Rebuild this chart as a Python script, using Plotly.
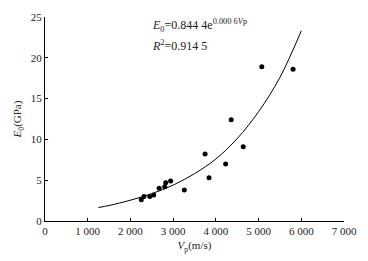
import plotly.graph_objects as go

# Measured points (Vp in m/s, E0 in GPa)
vp_points = [2254, 2316, 2453, 2545, 2673, 2803, 2826, 2941, 3261,
             3748, 3840, 4229, 4359, 4641, 5076, 5808]
e0_points = [2.6, 3.0, 3.0, 3.2, 4.0, 4.2, 4.7, 4.9, 3.8,
             8.2, 5.3, 7.0, 12.4, 9.1, 18.9, 18.6]

# Fitted trend curve
vp_curve = [1250, 1500, 2000, 2500, 3000, 3500, 4000, 4500, 5000, 5500, 6000]
e0_curve = [1.65, 1.9, 2.55, 3.35, 4.4, 5.8, 7.6, 10.1, 13.4, 17.6, 23.3]

x_ticks = [0, 1000, 2000, 3000, 4000, 5000, 6000, 7000]
x_labels = ["0", "1 000", "2 000", "3 000", "4 000", "5 000", "6 000", "7 000"]
y_ticks = [0, 5, 10, 15, 20, 25]

FONT = "Liberation Serif, Times New Roman, serif"

fig = go.Figure()
fig.add_trace(go.Scatter(x=vp_curve, y=e0_curve, mode="lines",
                         line=dict(color="black", width=1, shape="spline"),
                         showlegend=False, hoverinfo="skip"))
fig.add_trace(go.Scatter(x=vp_points, y=e0_points, mode="markers",
                         marker=dict(color="black", size=5),
                         showlegend=False))

axis_common = dict(showline=True, linecolor="black", linewidth=1, showgrid=False,
                   zeroline=False, ticks="inside", ticklen=3, tickcolor="black",
                   ticklabeloverflow="allow",
                   tickfont=dict(family=FONT, size=11, color="#222"))

fig.update_xaxes(range=[0, 7000], tickvals=x_ticks, ticktext=x_labels,
                 title=dict(text="<i>V</i><sub>p</sub>(m/s)", font=dict(family=FONT, size=11, color="#222"),
                            standoff=5),
                 **axis_common)
fig.update_yaxes(range=[0, 25], tickvals=y_ticks,
                 title=dict(text="<i>E</i><sub>0</sub>(GPa)", font=dict(family=FONT, size=11, color="#222"),
                            standoff=6),
                 **axis_common)

fig.add_annotation(xref="paper", yref="paper", x=0.35, y=0.96, xanchor="left", yanchor="middle",
                   text="<i>E</i><sub>0</sub>=0.844 4e<sup>0.000 6<i>V</i>p</sup>",
                   showarrow=False, font=dict(family=FONT, size=12, color="#222"))
fig.add_annotation(xref="paper", yref="paper", x=0.35, y=0.86, xanchor="left", yanchor="middle",
                   text="<i>R</i><sup>2</sup>=0.914 5",
                   showarrow=False, font=dict(family=FONT, size=12, color="#222"))

fig.update_layout(width=368, height=261, margin=dict(l=45, r=16, t=11, b=40),
                  paper_bgcolor="white", plot_bgcolor="white",
                  font=dict(family=FONT, size=11, color="#222"))

# remove the browser's default page margin so the figure fills the window exactly
fig.write_html("out.html", config={"displayModeBar": False},
               post_script="document.body.style.margin='0';document.body.style.overflow='hidden';")
